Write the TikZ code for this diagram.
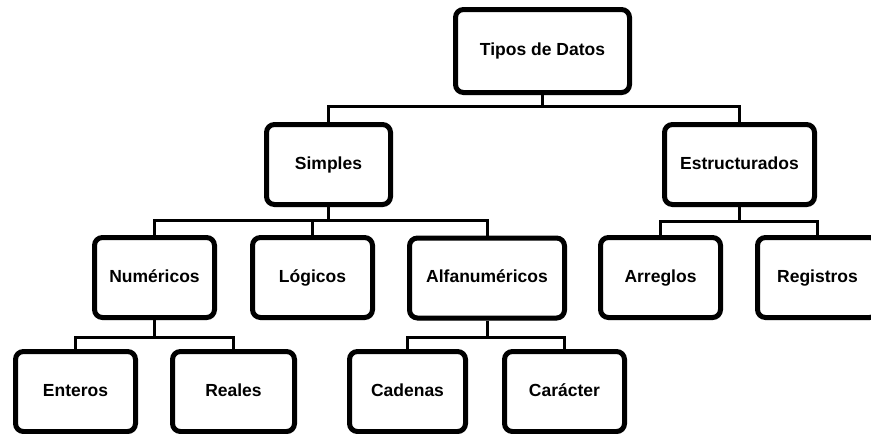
\documentclass[tikz,border=0pt]{standalone}
\usepackage{fontspec}
\setmainfont{Liberation Sans}
\usetikzlibrary{shadows,backgrounds}
\tikzset{
  box/.style={draw=black, line width=5pt, rounded corners=8pt, fill=white,
    inner sep=0pt, minimum height=80pt, text height=12.5pt, text depth=3.5pt,
    font=\fontsize{17.5}{20}\selectfont\bfseries,
    drop shadow={opacity=0.25, shadow xshift=1.5pt, shadow yshift=-2.5pt}},
  conn/.style={draw=black, line width=3pt}
}
\begin{document}
\begin{tikzpicture}[x=1pt,y=-1pt]
\useasboundingbox (0,0) rectangle (871,434);
\node[box, minimum width=174pt, minimum height=83pt] (tipos) at (542.5,51) {Tipos de Datos};
\node[box, minimum width=124pt] (simples) at (328.5,164.5) {Simples};
\node[box, minimum width=150pt] (estr) at (739.5,164.5) {Estructurados};
\node[box, minimum width=120pt] (num) at (154.5,277.5) {Numéricos};
\node[box, minimum width=120pt] (log) at (312.5,277.5) {Lógicos};
\node[box, minimum width=155pt] (alfa) at (487,278) {Alfanuméricos};
\node[box, minimum width=120pt] (arr) at (660.5,277.5) {Arreglos};
\node[box, minimum width=120pt] (reg) at (817.5,277.5) {Registros};
\node[box, minimum width=120pt] (ent) at (75.5,391.5) {Enteros};
\node[box, minimum width=122pt] (rea) at (233.5,391.5) {Reales};
\node[box, minimum width=116pt] (cad) at (407.5,391.5) {Cadenas};
\node[box, minimum width=120pt] (car) at (564.5,391.5) {Carácter};
\begin{scope}[on background layer]
\draw[conn] (tipos.south) |- ([yshift=16pt]simples.north) -- (simples.north);
\draw[conn] (tipos.south) |- ([yshift=16pt]estr.north) -- (estr.north);
\draw[conn] (simples.south) |- ([yshift=15pt]num.north) -- (num.north);
\draw[conn] (simples.south) |- ([yshift=15pt]log.north) -- (log.north);
\draw[conn] (simples.south) |- ([yshift=15pt]alfa.north) -- (alfa.north);
\draw[conn] (estr.south) |- ([yshift=14pt]arr.north) -- (arr.north);
\draw[conn] (estr.south) |- ([yshift=14pt]reg.north) -- (reg.north);
\draw[conn] (num.south) |- ([yshift=12pt]ent.north) -- (ent.north);
\draw[conn] (num.south) |- ([yshift=12pt]rea.north) -- (rea.north);
\draw[conn] (alfa.south) |- ([yshift=12pt]cad.north) -- (cad.north);
\draw[conn] (alfa.south) |- ([yshift=12pt]car.north) -- (car.north);
\end{scope}
\end{tikzpicture}
\end{document}
